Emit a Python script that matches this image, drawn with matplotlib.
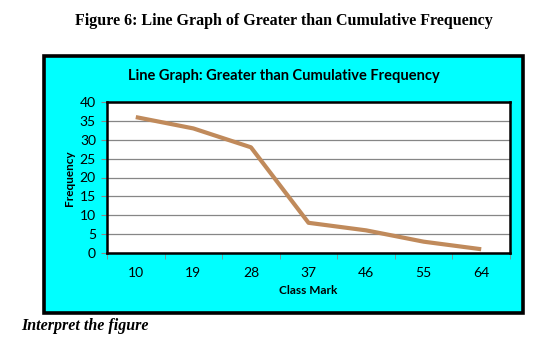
import matplotlib.pyplot as plt
from matplotlib.patches import Rectangle

# Datos del grafico
class_mark = ["10", "19", "28", "37", "46", "55", "64"]
frequency = [36, 33, 28, 8, 6, 3, 1]
y_ticks = [0, 5, 10, 15, 20, 25, 30, 35, 40]

W, H = 545, 348
fig = plt.figure(figsize=(W / 100, H / 100), dpi=100)


def fx(px):
    return px / W


def fy(py):
    return 1 - py / H


# Marco exterior cyan con borde negro
frame = Rectangle((fx(44), fy(313)), fx(523) - fx(44), fy(56) - fy(313),
                  transform=fig.transFigure, facecolor="#00ffff",
                  edgecolor="black", linewidth=2.6, zorder=-1)
fig.patches.append(frame)

ax = fig.add_axes([fx(107), fy(253), fx(510) - fx(107), fy(102) - fy(253)])
ax.set_zorder(2)
ax.set_facecolor("white")

x = list(range(len(class_mark)))
ax.plot(x, frequency, color="#c08a5b", linewidth=3.0, solid_capstyle="butt", zorder=3)

ax.set_xlim(-0.5, len(class_mark) - 0.5)
ax.set_ylim(0, 40)
ax.set_yticks(y_ticks)
ax.set_yticklabels([str(v) for v in y_ticks])
ax.set_xticks(x)
ax.set_xticklabels(class_mark)
ax.set_xticks([i - 0.5 for i in range(len(class_mark) + 1)], minor=True)
ax.tick_params(axis="x", which="major", length=0, pad=10, labelsize=10)
ax.tick_params(axis="x", which="minor", length=4, color="#888888", direction="out")
ax.tick_params(axis="y", length=4, color="#888888", direction="out", labelsize=10, pad=4)
for lab in ax.get_xticklabels() + ax.get_yticklabels():
    lab.set_fontfamily("Lato")

ax.yaxis.grid(True, color="#868686", linewidth=0.9)
ax.set_axisbelow(True)
for s in ax.spines.values():
    s.set_color("black")
    s.set_linewidth(1.8)

fig.text(fx(70), fy(178), "Frequency", rotation=90, ha="center", va="center",
         fontsize=8.5, fontweight="bold", family="Lato")
fig.text(fx(308), fy(291), "Class Mark", ha="center", va="center",
         fontsize=8.5, fontweight="bold", family="Lato")
fig.text(fx(284), fy(76), "Line Graph: Greater than Cumulative Frequency",
         ha="center", va="center", fontsize=10.5, fontweight="bold", family="Lato")

fig.text(fx(284), fy(21), "Figure 6: Line Graph of Greater than Cumulative Frequency",
         ha="center", va="center", fontsize=11.5, fontweight="bold",
         family="Liberation Serif")
fig.text(fx(21), fy(326), "Interpret the figure", ha="left", va="center",
         fontsize=11.5, fontweight="bold", fontstyle="italic", family="Liberation Serif")

fig.savefig("out.png", dpi=100)
